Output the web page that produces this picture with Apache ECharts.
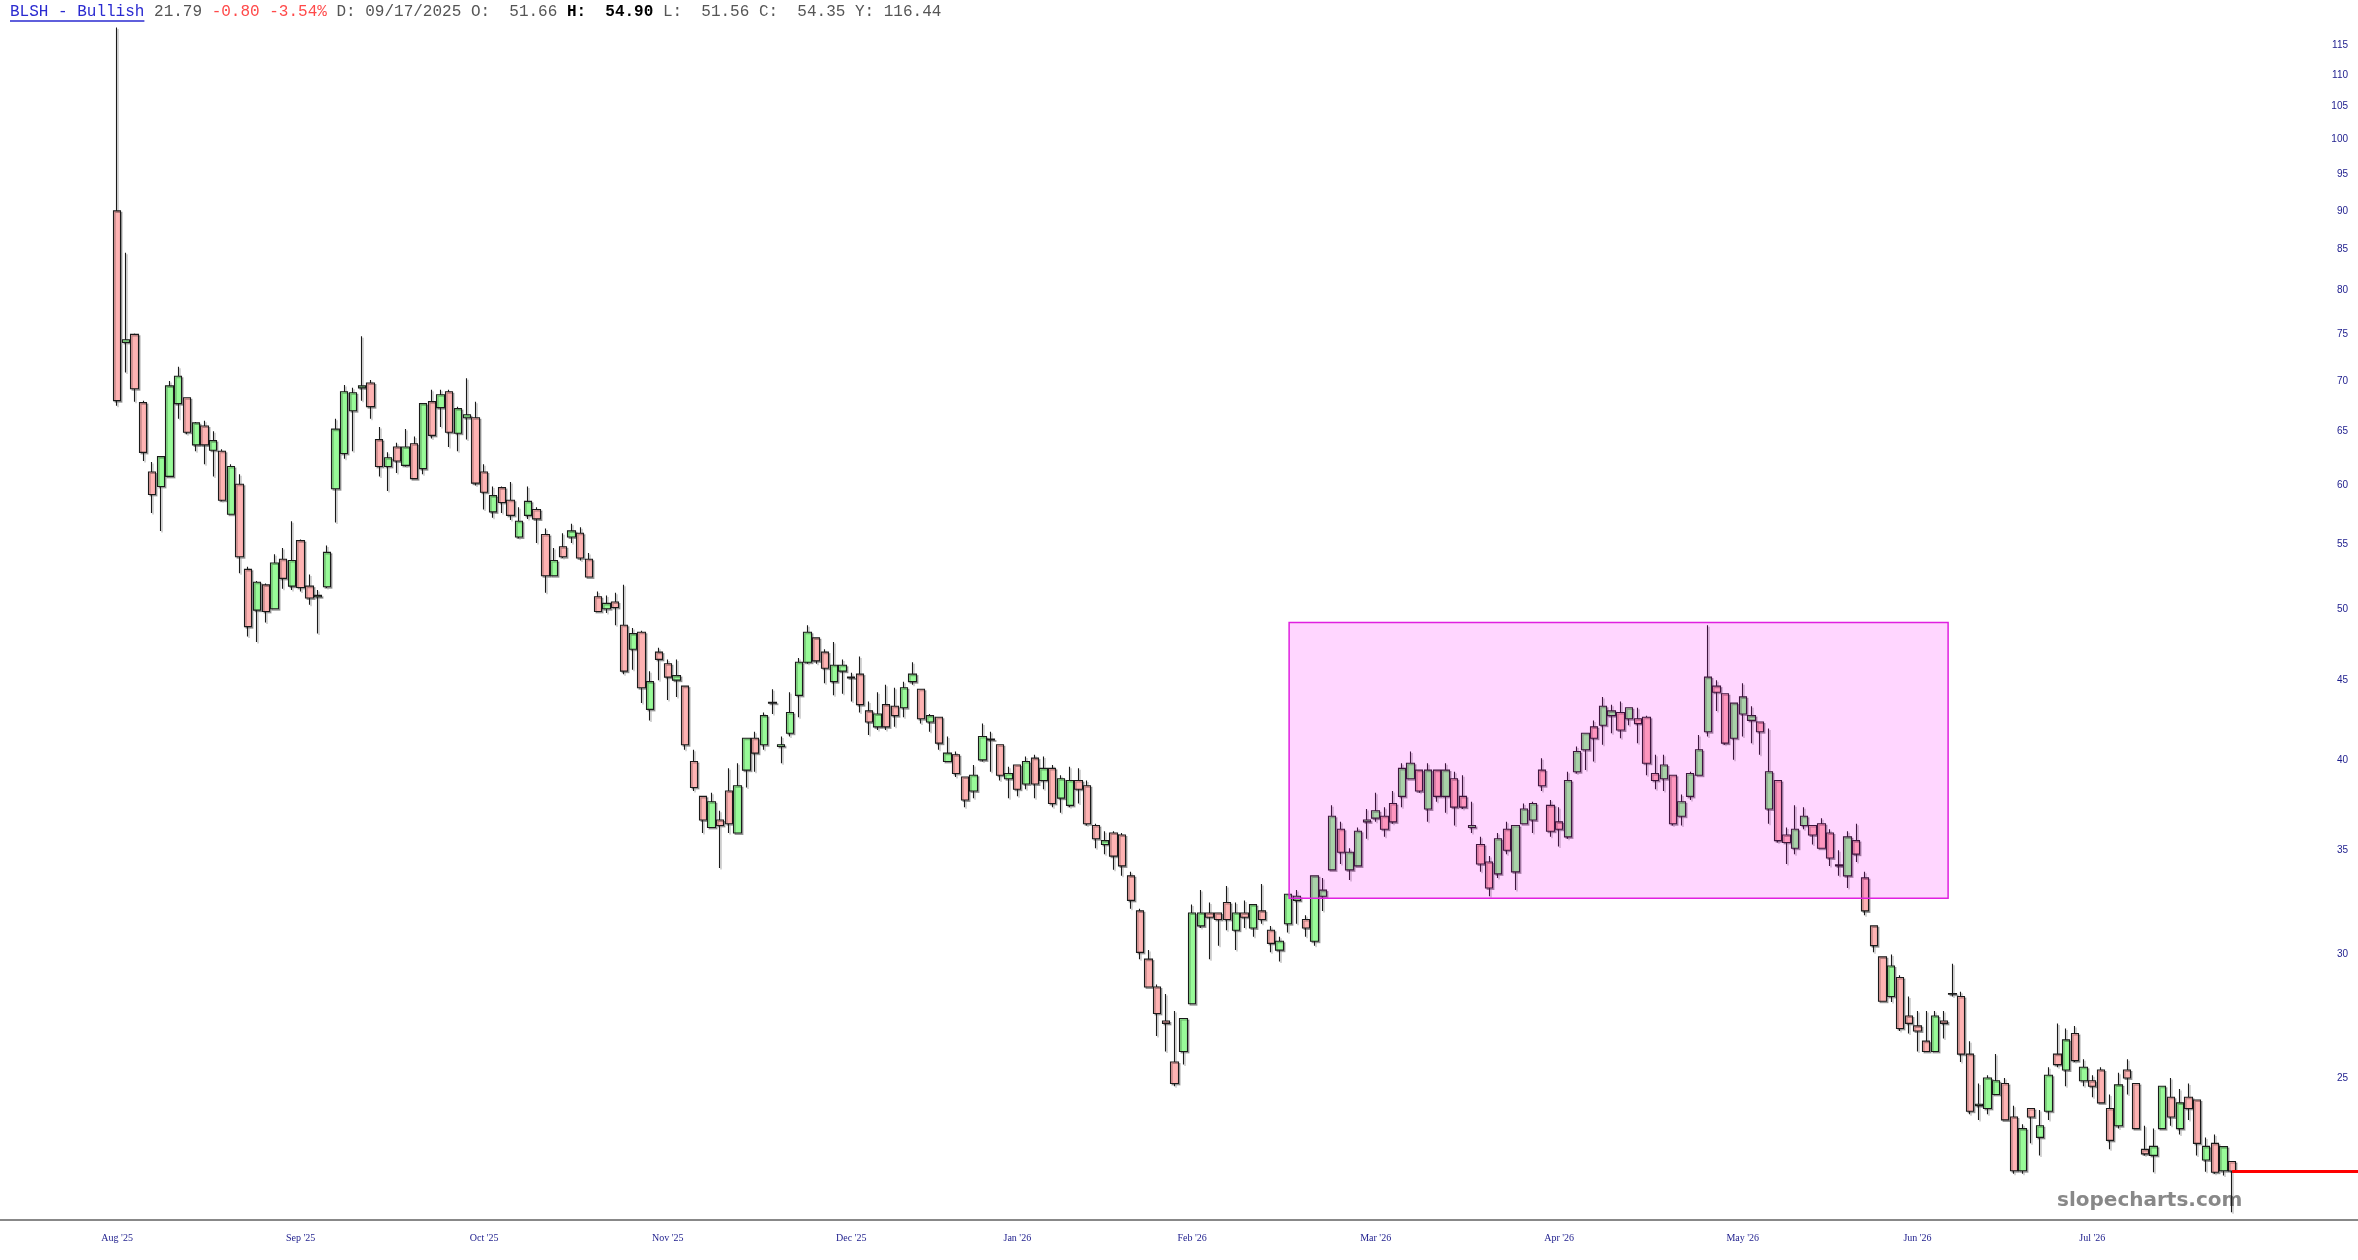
<!DOCTYPE html>
<html lang="en">
<head>
    <meta charset="UTF-8">
    <title>BLSH - Bullish</title>
    <script src="https://cdn.jsdelivr.net/npm/echarts@6.0.0/dist/echarts.min.js"></script>
    <style>
        html, body { margin: 0; padding: 0; background: #fff; }
        #main { width: 2358px; height: 1260px; }
    </style>
</head>
<body>
    <div id="main"></div>
    <script type="text/javascript">
        // daily candles, oldest first
        var opens = [
            90.0, 74.1, 75.0, 67.8, 61.2, 59.9, 60.8, 67.7, 68.3, 63.7,
            65.5, 63.2, 63.1, 57.5, 60.1, 53.0, 49.9, 51.8, 50.0, 53.8,
            51.7, 55.3, 51.7, 50.9, 51.66, 59.7, 62.9, 67.0, 69.3, 69.8,
            64.2, 61.7, 63.5, 61.8, 63.8, 61.5, 67.9, 67.3, 68.9, 64.8,
            66.3, 66.3, 61.2, 57.7, 59.8, 58.7, 55.6, 57.4, 57.9, 55.8,
            52.5, 54.8, 55.6, 55.9, 53.8, 50.9, 50.0, 50.5, 48.8, 47.1,
            48.3, 43.1, 46.9, 46.1, 45.0, 44.6, 39.9, 37.9, 36.2, 36.6,
            38.2, 35.9, 39.4, 41.3, 40.9, 43.5, 40.8, 41.6, 44.0, 46.2,
            47.9, 46.9, 44.9, 45.6, 45.15, 45.4, 43.0, 42.0, 43.4, 43.3,
            43.2, 44.9, 44.4, 42.3, 42.6, 39.9, 40.3, 39.0, 38.2, 40.0,
            41.2, 40.9, 38.9, 39.7, 38.6, 40.1, 38.8, 39.5, 37.8, 37.4,
            38.8, 38.5, 36.3, 35.3, 35.9, 35.8, 33.7, 32.0, 29.8, 28.6,
            27.2, 25.6, 26.0, 27.9, 31.3, 31.9, 31.9, 32.4, 31.1, 31.9,
            31.2, 32.0, 31.1, 30.2, 31.4, 32.5, 31.6, 30.6, 32.7, 34.0,
            36.1, 34.0, 34.2, 36.5, 36.7, 36.8, 37.5, 37.9, 38.9, 39.4,
            37.2, 39.4, 37.9, 38.9, 37.9, 36.2, 35.3, 34.4, 33.8, 36.1,
            33.9, 36.4, 36.6, 39.4, 37.4, 36.5, 35.7, 39.3, 40.6, 42.0,
            42.1, 42.7, 42.9, 42.5, 42.5, 42.6, 39.2, 38.9, 39.1, 36.8,
            37.9, 39.1, 41.7, 44.6, 44.1, 41.3, 42.8, 42.4, 42.3, 37.2,
            38.8, 35.8, 35.1, 36.3, 36.3, 36.4, 35.9, 34.2, 33.7, 35.5,
            33.6, 31.3, 29.9, 28.2, 29.0, 27.4, 27.0, 26.4, 26.0, 27.2,
            28.3, 28.2, 25.9, 24.0, 23.9, 24.4, 24.8, 23.6, 21.8, 23.9,
            22.9, 23.8, 25.9, 25.3, 26.7, 24.9, 24.9, 25.3, 23.9, 23.3,
            25.3, 24.8, 22.5, 22.3, 23.2, 24.3, 23.2, 24.3, 24.2, 22.15,
            22.7, 21.8, 22.1
        ];
        var highs = [
            118.0, 84.6, 75.1, 68.0, 62.1, 62.6, 70.0, 71.5, 68.3, 65.9,
            66.0, 65.0, 63.3, 61.9, 61.0, 53.2, 52.1, 51.9, 54.2, 54.7,
            56.9, 55.4, 52.6, 51.4, 54.90, 66.2, 69.6, 69.3, 74.8, 70.1,
            65.4, 63.0, 63.9, 65.2, 64.5, 67.7, 69.1, 69.1, 69.1, 67.4,
            70.3, 67.9, 61.9, 59.9, 59.9, 60.3, 58.1, 59.9, 58.1, 56.3,
            54.7, 55.9, 56.7, 56.4, 54.3, 51.3, 51.0, 51.2, 51.8, 48.6,
            48.4, 45.6, 47.2, 46.4, 46.4, 44.6, 40.6, 37.9, 38.1, 37.1,
            39.5, 39.8, 41.3, 41.7, 42.9, 44.4, 41.4, 44.2, 46.5, 48.8,
            47.9, 47.1, 47.6, 46.4, 45.5, 46.6, 43.6, 44.2, 44.7, 44.5,
            44.9, 46.2, 44.4, 42.8, 42.6, 41.4, 40.5, 39.0, 39.7, 42.2,
            41.7, 40.9, 39.6, 39.7, 40.2, 40.3, 40.2, 39.7, 39.1, 39.6,
            39.5, 38.8, 36.4, 36.0, 36.0, 35.9, 33.9, 32.1, 30.2, 28.7,
            28.3, 27.6, 27.3, 32.3, 33.0, 32.4, 31.9, 33.2, 32.4, 32.5,
            32.3, 33.3, 31.3, 30.8, 32.8, 33.0, 31.8, 33.7, 33.6, 37.4,
            36.5, 35.1, 36.2, 37.2, 38.1, 37.3, 38.2, 39.8, 40.5, 39.4,
            39.8, 39.4, 39.8, 39.3, 39.1, 37.6, 35.7, 34.7, 35.9, 36.5,
            36.3, 37.5, 37.6, 40.1, 37.7, 37.3, 39.3, 40.8, 41.6, 42.4,
            43.9, 43.4, 43.6, 43.2, 43.2, 42.7, 40.3, 40.3, 39.1, 38.0,
            39.3, 41.5, 48.8, 45.0, 44.1, 43.5, 44.8, 43.3, 42.3, 41.9,
            38.8, 36.2, 37.4, 37.3, 36.3, 36.7, 36.1, 35.0, 36.0, 36.4,
            33.9, 31.3, 29.9, 30.0, 29.1, 28.2, 27.6, 27.6, 27.6, 27.6,
            29.6, 28.4, 26.4, 24.8, 25.1, 25.9, 25.0, 24.0, 23.35, 23.9,
            23.85, 25.4, 27.1, 26.9, 27.0, 25.7, 25.1, 25.4, 24.4, 25.2,
            25.7, 24.8, 23.3, 23.2, 24.7, 25.0, 24.6, 24.8, 24.2, 22.9,
            23.0, 22.6, 22.1
        ];
        var lows = [
            67.5, 70.9, 67.9, 62.2, 57.6, 56.1, 60.8, 66.2, 64.7, 63.1,
            61.9, 60.8, 58.6, 57.5, 52.7, 48.0, 47.6, 49.0, 50.0, 51.5,
            51.4, 51.3, 50.3, 48.2, 51.56, 56.8, 62.4, 63.1, 68.0, 66.2,
            60.8, 59.5, 61.1, 61.7, 60.6, 61.0, 64.3, 65.4, 63.5, 63.1,
            64.2, 60.0, 57.9, 57.2, 57.6, 57.0, 55.5, 57.1, 55.1, 51.2,
            52.5, 53.9, 55.1, 53.7, 52.4, 49.8, 49.7, 48.8, 45.4, 45.7,
            43.5, 42.4, 45.0, 43.7, 43.9, 40.6, 38.2, 35.9, 36.2, 34.1,
            35.9, 35.9, 38.4, 39.3, 40.6, 42.8, 39.8, 41.4, 42.6, 46.1,
            46.1, 44.8, 44.0, 44.1, 43.6, 42.9, 41.5, 41.8, 41.8, 42.0,
            42.6, 44.7, 42.2, 41.7, 40.6, 39.9, 39.0, 37.3, 37.8, 39.9,
            39.3, 38.8, 37.8, 37.9, 38.3, 37.8, 38.3, 37.3, 37.0, 37.3,
            37.5, 36.3, 35.1, 34.8, 34.0, 33.7, 32.1, 29.8, 28.6, 26.6,
            26.0, 24.7, 25.5, 27.9, 31.2, 29.8, 30.4, 31.1, 30.2, 31.2,
            30.8, 31.4, 30.1, 29.7, 31.0, 31.4, 30.8, 30.4, 32.0, 34.0,
            34.3, 33.5, 34.2, 35.6, 36.5, 35.7, 36.4, 37.3, 38.9, 38.1,
            36.5, 37.6, 37.0, 36.3, 37.2, 35.9, 33.9, 32.7, 33.6, 34.8,
            33.0, 36.4, 35.9, 38.2, 35.7, 35.2, 35.6, 39.2, 39.4, 39.9,
            40.9, 41.6, 41.3, 42.1, 41.0, 39.1, 38.3, 38.2, 36.3, 36.3,
            37.7, 39.1, 41.4, 43.0, 40.9, 40.0, 41.4, 41.0, 40.3, 36.4,
            35.4, 34.3, 34.8, 36.1, 35.3, 35.1, 34.2, 33.7, 33.1, 34.4,
            31.8, 30.1, 28.0, 27.97, 26.8, 26.7, 26.0, 26.0, 26.0, 26.5,
            28.2, 25.6, 23.7, 23.5, 23.7, 24.4, 23.5, 21.7, 21.7, 22.7,
            22.3, 23.5, 25.4, 24.7, 25.6, 24.7, 24.3, 24.1, 22.5, 23.2,
            24.4, 23.2, 22.3, 21.75, 23.2, 23.3, 23.0, 23.5, 22.3, 21.77,
            21.7, 21.65, 20.5
        ];
        var closes = [
            68.0, 74.4, 69.2, 63.0, 59.2, 62.6, 69.5, 70.5, 64.9, 65.8,
            63.7, 64.1, 58.7, 61.7, 54.0, 48.7, 52.0, 49.8, 53.5, 52.3,
            53.7, 51.6, 50.8, 51.0, 54.35, 65.2, 68.9, 68.8, 69.5, 67.4,
            61.7, 62.5, 62.2, 63.5, 60.6, 67.7, 64.6, 68.6, 64.9, 67.2,
            66.6, 60.2, 59.4, 59.1, 58.5, 57.4, 56.9, 58.6, 57.1, 52.5,
            53.7, 54.0, 56.1, 53.9, 52.4, 49.8, 50.4, 50.1, 45.6, 48.2,
            44.5, 44.9, 46.4, 45.2, 45.3, 40.9, 38.4, 36.6, 37.6, 36.3,
            36.4, 38.5, 41.3, 40.4, 42.7, 43.55, 40.9, 42.9, 46.2, 48.3,
            46.3, 45.8, 46.0, 46.0, 45.2, 43.4, 42.3, 42.8, 42.0, 42.7,
            44.5, 45.4, 42.5, 42.7, 41.0, 40.4, 39.2, 37.7, 39.1, 41.4,
            41.25, 39.1, 39.2, 38.3, 39.9, 38.6, 39.5, 37.5, 38.9, 38.8,
            38.3, 36.4, 35.6, 35.5, 34.7, 34.2, 32.5, 30.1, 28.6, 27.5,
            27.1, 24.8, 27.3, 31.9, 31.9, 31.7, 31.6, 31.6, 31.9, 31.7,
            32.3, 31.6, 30.5, 30.6, 32.8, 32.7, 31.2, 33.7, 33.0, 36.8,
            34.9, 34.9, 36.0, 36.6, 37.1, 36.1, 36.5, 39.5, 39.8, 38.2,
            39.4, 37.9, 39.4, 37.3, 37.3, 36.3, 34.3, 33.1, 35.6, 35.0,
            36.3, 37.2, 37.5, 38.5, 36.0, 36.1, 38.8, 40.5, 41.6, 41.3,
            43.3, 43.0, 41.8, 43.2, 42.2, 39.8, 38.8, 39.7, 36.4, 37.6,
            39.2, 40.6, 45.2, 44.2, 41.0, 43.5, 43.9, 42.7, 41.7, 39.3,
            35.5, 35.4, 36.1, 36.8, 35.8, 35.1, 34.6, 34.25, 35.7, 34.8,
            32.0, 30.4, 28.0, 29.5, 26.9, 27.1, 26.8, 26.0, 27.4, 27.1,
            28.32, 25.9, 23.8, 24.05, 25.0, 24.9, 23.5, 21.8, 23.2, 23.6,
            23.3, 25.1, 25.5, 26.45, 25.65, 25.4, 24.7, 24.1, 22.8, 24.75,
            25.0, 23.2, 22.35, 22.6, 24.7, 23.6, 24.1, 23.9, 22.7, 22.6,
            21.75, 22.59, 21.79
        ];

        // x axis month labels and the candle where each month starts
        var monthLabels = ["Aug '25", "Sep '25", "Oct '25", "Nov '25", "Dec '25", "Jan '26",
                           "Feb '26", "Mar '26", "Apr '26", "May '26", "Jun '26", "Jul '26"];
        var monthStart = [0, 21, 42, 63, 84, 103, 123, 144, 165, 186, 206, 226];

        // price ticks on the right
        var priceTicks = [25, 30, 35, 40, 45, 50, 55, 60, 65, 70, 75, 80, 85, 90, 95, 100, 105, 110, 115];

        // highlighted range (candle index from/to, price top/bottom)
        var rangeBox = [134.1, 209.5, 49.0, 32.6];

        // header
        var ticker = 'BLSH - Bullish';
        var lastPrice = 21.79;
        var change = '-0.80';
        var changePct = '-3.54%';
        var hoverDate = '09/17/2025';
        var hoverOHLC = ['51.66', '54.90', '51.56', '54.35'];
        var hoverY = '116.44';

        var chartDom = document.getElementById('main');
        var myChart = echarts.init(chartDom);
        var option;

        var rows = opens.map(function (o, i) {
            return [i, o, closes[i], lows[i], highs[i]];
        });

        var mono = '"Liberation Mono", "Courier New", monospace';
        var headerText =
            '{t|' + ticker + '}' +
            '{g| ' + lastPrice.toFixed(2) + ' }' +
            '{r|' + change + ' ' + changePct + '}' +
            '{g| D: ' + hoverDate + ' O:  ' + hoverOHLC[0] + ' }' +
            '{b|H:  ' + hoverOHLC[1] + '}' +
            '{g| L:  ' + hoverOHLC[2] + ' C:  ' + hoverOHLC[3] + ' Y: ' + hoverY + '}';

        option = {
            animation: false,
            backgroundColor: '#ffffff',
            title: {
                left: 10,
                top: 4,
                padding: 0,
                text: headerText,
                textStyle: {
                    fontFamily: mono,
                    fontSize: 16,
                    fontWeight: 'normal',
                    rich: {
                        t: { fontFamily: mono, fontSize: 16, color: '#2a2ad0' },
                        g: { fontFamily: mono, fontSize: 16, color: '#555555' },
                        r: { fontFamily: mono, fontSize: 16, color: '#ff4a4a' },
                        b: { fontFamily: mono, fontSize: 16, color: '#000000', fontWeight: 'bold' }
                    }
                }
            },
            grid: {
                left: 0,
                right: 0,
                top: 0,
                bottom: 40,
                outerBoundsMode: 'none'
            },
            xAxis: {
                type: 'value',
                min: -13.4,
                max: 256.4,
                splitLine: { show: false },
                axisTick: { show: false },
                axisLine: { onZero: false, lineStyle: { color: '#888888', width: 2 } },
                axisLabel: {
                    customValues: monthStart,
                    margin: 13,
                    color: '#1c1c8c',
                    fontFamily: '"Liberation Serif", serif',
                    fontSize: 10,
                    formatter: function (v) {
                        var k = monthStart.indexOf(Math.round(v));
                        return k >= 0 ? monthLabels[k] : '';
                    }
                }
            },
            yAxis: {
                type: 'log',
                position: 'right',
                min: 20.27,
                max: 122.9,
                splitLine: { show: false },
                axisLine: { show: false },
                axisTick: { show: false },
                axisLabel: {
                    inside: true,
                    margin: 10,
                    customValues: priceTicks,
                    color: '#1c1c8c',
                    fontFamily: '"Liberation Sans", sans-serif',
                    fontSize: 10
                }
            },
            series: [
                {
                    name: 'BLSH',
                    type: 'candlestick',
                    data: rows,
                    encode: { x: 0, y: [1, 2, 3, 4] },
                    barWidth: 7.8,
                    itemStyle: {
                        color: '#98fb98',
                        color0: '#ffb3b3',
                        borderColor: '#1a1a1a',
                        borderColor0: '#1a1a1a',
                        borderWidth: 1.1,
                        shadowColor: 'rgba(0,0,0,0.3)',
                        shadowOffsetX: 1.5,
                        shadowOffsetY: 1.5
                    },
                    markArea: {
                        silent: true,
                        z: 5,
                        label: { show: false },
                        itemStyle: {
                            color: 'rgba(255,0,255,0.16)',
                            borderColor: '#e020e0',
                            borderWidth: 1.5
                        },
                        data: [[
                            { xAxis: rangeBox[0], yAxis: rangeBox[2] },
                            { xAxis: rangeBox[1], yAxis: rangeBox[3] }
                        ]]
                    },
                    markLine: {
                        silent: true,
                        symbol: ['none', 'none'],
                        label: { show: false },
                        lineStyle: { color: '#ff0000', width: 3, type: 'solid' },
                        data: [[
                            { coord: [opens.length - 1, lastPrice] },
                            { coord: [256.4, lastPrice] }
                        ]]
                    }
                }
            ],
            graphic: [
                {
                    type: 'line',
                    shape: { x1: 10, y1: 21, x2: 10 + ticker.length * 9.6, y2: 21 },
                    style: { stroke: '#2a2ad0', lineWidth: 1.5 }
                },
                {
                    type: 'text',
                    left: 2057,
                    top: 1191,
                    style: {
                        text: 'slopecharts.com',
                        font: 'bold 20px "DejaVu Sans", sans-serif',
                        fill: '#888888'
                    }
                }
            ]
        };

        option && myChart.setOption(option);
    </script>
</body>
</html>
